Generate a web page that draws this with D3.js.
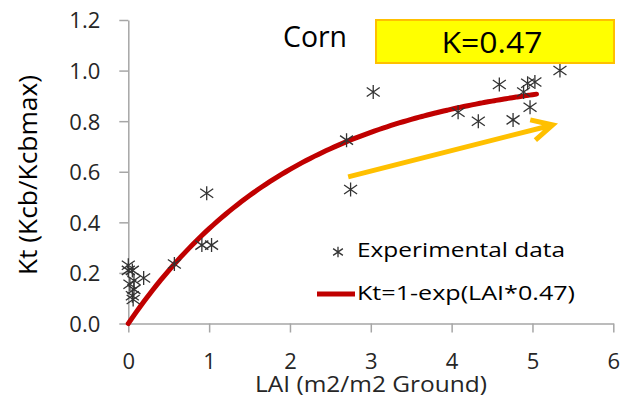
<!DOCTYPE html>
<html>
<head>
<meta charset="utf-8">
<script src="https://cdn.jsdelivr.net/npm/d3@7"></script>
<style>
  body { margin: 0; background: #fff; }
  text { font-family: "Open Sans", "DejaVu Sans", sans-serif; }
</style>
</head>
<body>
<svg id="chart" width="632" height="400"></svg>
<script>
// Measured leaf area index and relative transpiration coefficient
const laiObs = [0.00, 0.00, 0.05, 0.19, 0.07, 0.02, 0.07, 0.05, 0.06,
                0.57, 0.97, 0.91, 1.03, 2.70, 2.75, 3.03,
                4.08, 4.33, 4.59, 4.76, 4.89, 4.94, 5.03, 4.97, 5.34];
const ktObs  = [0.23, 0.21, 0.21, 0.18, 0.17, 0.155, 0.135, 0.11, 0.095,
                0.235, 0.515, 0.31, 0.31, 0.725, 0.53, 0.915,
                0.835, 0.80, 0.945, 0.805, 0.915, 0.95, 0.955, 0.855, 1.00];

// Extinction coefficient of the fitted model Kt = 1 - exp(-K * LAI)
const K = 0.47;
const laiMax = 5.05;

const xTicks = [0, 1, 2, 3, 4, 5, 6];
const yTicks = [0, 0.2, 0.4, 0.6, 0.8, 1.0, 1.2];

const cropName = "Corn";
const kLabel = "K=0.47";
const legendObs = "Experimental data";
const legendFit = "Kt=1-exp(LAI*0.47)";
const xTitle = "LAI (m2/m2 Ground)";
const yTitle = "Kt (Kcb/Kcbmax)";

// Trend arrow, in data units
const arrowFrom = [2.72, 0.58];
const arrowTo = [5.25, 0.785];

const svg = d3.select("#chart");
const x = d3.scaleLinear().domain([0, 6]).range([128.3, 613.3]);
const y = d3.scaleLinear().domain([0, 1.2]).range([323.5, 20]);

const axisColor = "#a6a6a6";
const labelColor = "#262626";

// Axes
const gx = svg.append("g").attr("transform", `translate(0,${y(0)})`)
  .call(d3.axisBottom(x).tickValues(xTicks).tickSize(9).tickSizeOuter(0)
        .tickFormat(d3.format("d")));
gx.selectAll("text").attr("y", 45.5).attr("dy", 0)
  .attr("font-size", 22).attr("fill", labelColor);

const gy = svg.append("g").attr("transform", `translate(${x(0)},0)`)
  .call(d3.axisLeft(y).tickValues(yTicks).tickSize(9).tickSizeOuter(0)
        .tickPadding(19).tickFormat(d3.format(".1f")));
gy.selectAll("text").attr("dy", "0.36em")
  .attr("font-size", 22).attr("fill", labelColor);

[gx, gy].forEach(g => {
  g.select(".domain").attr("stroke", axisColor).attr("stroke-width", 1.5);
  g.selectAll(".tick line").attr("stroke", axisColor).attr("stroke-width", 1.5);
  g.attr("font-family", null);
});

// Axis titles
svg.append("text").attr("x", 371).attr("y", 392).attr("text-anchor", "middle")
  .attr("font-size", 21).attr("fill", labelColor)
  .attr("textLength", 232).attr("lengthAdjust", "spacingAndGlyphs")
  .text(xTitle);
svg.append("text").attr("transform", "translate(37,175) rotate(-90)")
  .attr("text-anchor", "middle").attr("font-size", 26).attr("fill", "#000")
  .attr("textLength", 200).attr("lengthAdjust", "spacingAndGlyphs")
  .text(yTitle);

// Fitted exponential curve
const fit = d3.range(0, laiMax + 1e-9, 0.05).map(l => [l, 1 - Math.exp(-K * l)]);
const line = d3.line().x(d => x(d[0])).y(d => y(d[1])).curve(d3.curveMonotoneX);
svg.append("path").datum(fit).attr("d", line)
  .attr("fill", "none").attr("stroke", "#c00000").attr("stroke-width", 5)
  .attr("stroke-linecap", "round");

// Star marker
const star = s => `M0,${-7 * s}V${7 * s}M${-6.5 * s},${-4.5 * s}L${6.5 * s},${4.5 * s}M${-6.5 * s},${4.5 * s}L${6.5 * s},${-4.5 * s}`;

svg.append("g").selectAll("path").data(laiObs.map((l, i) => [l, ktObs[i]]))
  .join("path")
  .attr("transform", d => `translate(${x(d[0])},${y(d[1])})`)
  .attr("d", star(1))
  .attr("fill", "none").attr("stroke", "#333").attr("stroke-width", 1.3);

// Legend
svg.append("path").attr("transform", "translate(338,252)").attr("d", star(0.75))
  .attr("fill", "none").attr("stroke", "#333").attr("stroke-width", 1.3);
svg.append("text").attr("x", 357).attr("y", 257).attr("font-size", 20).attr("fill", "#000")
  .attr("textLength", 208).attr("lengthAdjust", "spacingAndGlyphs").text(legendObs);
svg.append("line").attr("x1", 317).attr("x2", 355).attr("y1", 294).attr("y2", 294)
  .attr("stroke", "#c00000").attr("stroke-width", 5);
svg.append("text").attr("x", 357).attr("y", 300).attr("font-size", 20).attr("fill", "#000")
  .attr("textLength", 218).attr("lengthAdjust", "spacingAndGlyphs").text(legendFit);

// Crop name and K box
svg.append("text").attr("x", 283).attr("y", 46.5).attr("font-size", 29).attr("fill", "#000")
  .attr("textLength", 64).attr("lengthAdjust", "spacingAndGlyphs").text(cropName);
svg.append("rect").attr("x", 376).attr("y", 20).attr("width", 238).attr("height", 43)
  .attr("fill", "#ffff00").attr("stroke", "#ffc000").attr("stroke-width", 2);
svg.append("text").attr("x", 492).attr("y", 53.3).attr("text-anchor", "middle")
  .attr("font-size", 30).attr("fill", "#000")
  .attr("textLength", 101).attr("lengthAdjust", "spacingAndGlyphs").text(kLabel);

// Trend arrow
const p0 = [x(arrowFrom[0]), y(arrowFrom[1])];
const p1 = [x(arrowTo[0]), y(arrowTo[1])];
const ang = Math.atan2(p0[1] - p1[1], p0[0] - p1[0]);
const half = 27 * Math.PI / 180, wing = 23;
const w1 = [p1[0] + wing * Math.cos(ang + half), p1[1] + wing * Math.sin(ang + half)];
const w2 = [p1[0] + wing * Math.cos(ang - half), p1[1] + wing * Math.sin(ang - half)];
const arrow = d3.path();
arrow.moveTo(p0[0], p0[1]); arrow.lineTo(p1[0], p1[1]);
arrow.moveTo(w1[0], w1[1]); arrow.lineTo(p1[0], p1[1]); arrow.lineTo(w2[0], w2[1]);
svg.append("path").attr("d", arrow.toString())
  .attr("fill", "none").attr("stroke", "#ffc000").attr("stroke-width", 5)
  .attr("stroke-linejoin", "miter");
</script>
</body>
</html>
